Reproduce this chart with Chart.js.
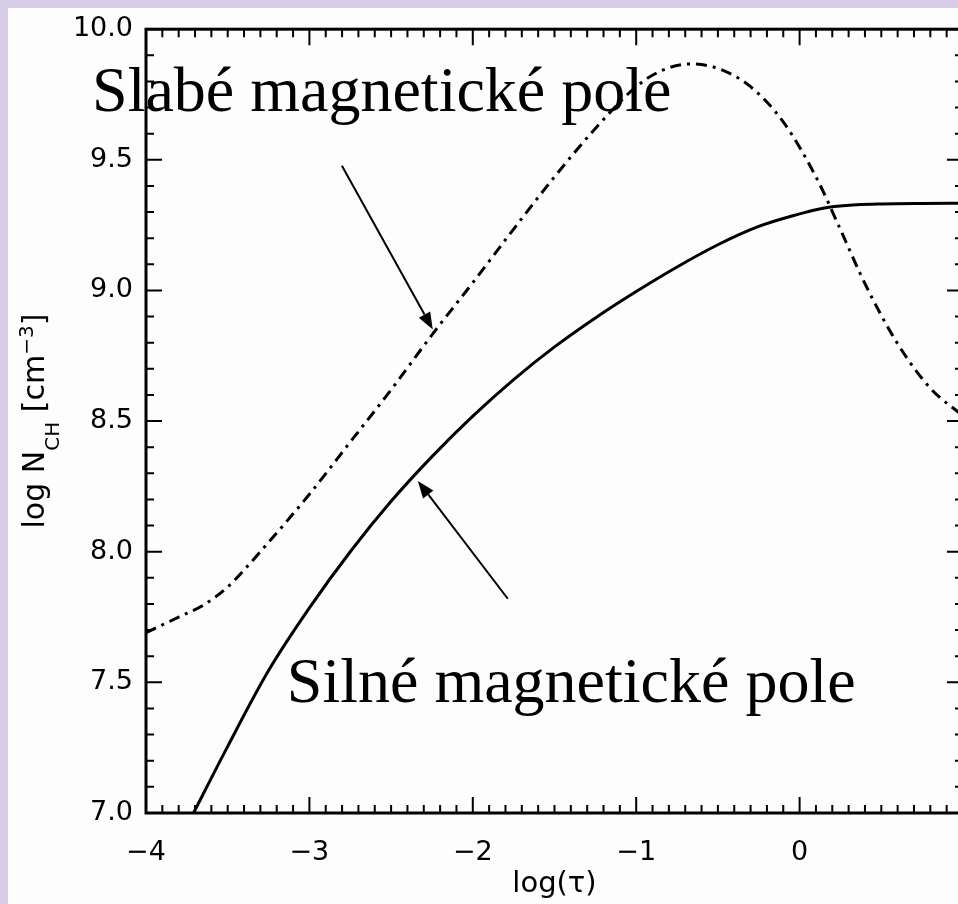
<!DOCTYPE html>
<html>
<head>
<meta charset="utf-8">
<script src="https://cdn.jsdelivr.net/npm/chart.js@4.4.1/dist/chart.umd.min.js"></script>
<style>
  html, body { margin: 0; padding: 0; overflow: hidden; }
  body { width: 958px; height: 904px; background: rgb(216, 205, 230); position: relative; }
  #sheet { position: absolute; left: 8px; top: 8px; right: 0; bottom: 0; background: #fdfdfd; }
  #chart { position: absolute; left: 0; top: 0; }
</style>
</head>
<body>
<div id="sheet"></div>
<canvas id="chart" width="963" height="904"></canvas>
<script>
// weak field model (dash-dot curve)
const weakTau = [-4.0, -3.8, -3.65, -3.5, -3.4, -3.3, -3.0, -2.75, -2.5, -2.25, -2.0, -1.75, -1.5, -1.25, -1.0, -0.85, -0.67, -0.5, -0.3, -0.1, 0.1, 0.25, 0.4, 0.6, 0.8, 1.0];
const weakN = [7.69, 7.75, 7.795, 7.865, 7.93, 8.00, 8.22, 8.42, 8.62, 8.83, 9.03, 9.235, 9.435, 9.62, 9.78, 9.84, 9.867, 9.85, 9.78, 9.645, 9.435, 9.233, 9.026, 8.796, 8.626, 8.52];

// strong field model (solid curve)
const strongTau = [-3.85, -3.75, -3.5, -3.25, -3.0, -2.75, -2.5, -2.25, -2.0, -1.75, -1.5, -1.25, -1.0, -0.75, -0.5, -0.25, 0.0, 0.1, 0.2, 0.35, 0.5, 0.75, 1.0];
const strongN = [6.83, 6.95, 7.255, 7.545, 7.785, 8.0, 8.193, 8.364, 8.519, 8.659, 8.784, 8.895, 8.996, 9.09, 9.175, 9.245, 9.293, 9.309, 9.32, 9.328, 9.331, 9.333, 9.334];

// axes
const xTickValues = [-4, -3, -2, -1, 0];
const xTickLabels = ['−4', '−3', '−2', '−1', '0'];
const yTickValues = [7.0, 7.5, 8.0, 8.5, 9.0, 9.5, 10.0];
const yTickLabels = ['7.0', '7.5', '8.0', '8.5', '9.0', '9.5', '10.0'];

const labelWeak = 'Slabé magnetické pole';
const labelStrong = 'Silné magnetické pole';

const SANS = '"DejaVu Sans", sans-serif';
const SERIF = '"Liberation Serif", "Times New Roman", serif';

// annotation placement in data units
const notes = [
    { text: labelWeak, x: -4.33, y: 9.685 },
    { text: labelStrong, x: -3.138, y: 7.425 }
];
const arrows = [
    { from: [-2.801, 9.477], to: [-2.245, 8.851] },
    { from: [-1.786, 7.820], to: [-2.336, 8.271] }
];

function toPoints(xs, ys) {
    return xs.map((x, i) => ({ x: x, y: ys[i] }));
}

/**
 * Box frame with inward major/minor ticks on all four sides
 */
const frameTicks = {
    id: 'frameTicks',
    afterDatasetsDraw(chart) {
        const { ctx, chartArea: a, scales: { x, y } } = chart;
        ctx.save();
        ctx.strokeStyle = '#000';
        ctx.lineWidth = 2;
        ctx.beginPath();
        for (let i = 0; i <= 50; i++) {
            const px = x.getPixelForValue(-4 + i * 0.1);
            const len = i % 10 === 0 ? 16 : 8;
            ctx.moveTo(px, a.bottom); ctx.lineTo(px, a.bottom - len);
            ctx.moveTo(px, a.top); ctx.lineTo(px, a.top + len);
        }
        for (let i = 0; i <= 30; i++) {
            const py = y.getPixelForValue(7 + i * 0.1);
            const len = i % 5 === 0 ? 16 : 8;
            ctx.moveTo(a.left, py); ctx.lineTo(a.left + len, py);
            ctx.moveTo(a.right, py); ctx.lineTo(a.right - len, py);
        }
        ctx.stroke();
        ctx.lineWidth = 3;
        ctx.strokeRect(a.left, a.top, a.right - a.left, a.bottom - a.top);
        ctx.restore();
    }
};

/**
 * Y axis title with subscript and superscript
 */
const yTitle = {
    id: 'yTitle',
    afterDraw(chart) {
        const { ctx, chartArea: a } = chart;
        const parts = [
            { t: 'log N', size: 30, dy: 0 },
            { t: 'CH', size: 20, dy: 15 },
            { t: ' [cm', size: 30, dy: 0 },
            { t: '−3', size: 20, dy: -11 },
            { t: ']', size: 30, dy: 0 }
        ];
        ctx.save();
        let total = 0;
        parts.forEach(p => {
            ctx.font = p.size + 'px ' + SANS;
            p.w = ctx.measureText(p.t).width;
            total += p.w;
        });
        ctx.translate(44, (a.top + a.bottom) / 2);
        ctx.rotate(-Math.PI / 2);
        ctx.fillStyle = '#000';
        ctx.textBaseline = 'alphabetic';
        let cx = -total / 2;
        parts.forEach(p => {
            ctx.font = p.size + 'px ' + SANS;
            ctx.fillText(p.t, cx, p.dy);
            cx += p.w;
        });
        ctx.restore();
    }
};

/**
 * Text labels and arrows
 */
const annotations = {
    id: 'annotations',
    afterDraw(chart) {
        const { ctx, scales: { x, y } } = chart;
        ctx.save();
        ctx.fillStyle = '#000';
        ctx.strokeStyle = '#000';
        ctx.font = '64px ' + SERIF;
        ctx.textBaseline = 'alphabetic';
        notes.forEach(n => {
            ctx.fillText(n.text, x.getPixelForValue(n.x), y.getPixelForValue(n.y));
        });
        ctx.lineWidth = 2;
        arrows.forEach(ar => {
            const x0 = x.getPixelForValue(ar.from[0]), y0 = y.getPixelForValue(ar.from[1]);
            const x1 = x.getPixelForValue(ar.to[0]), y1 = y.getPixelForValue(ar.to[1]);
            const ang = Math.atan2(y1 - y0, x1 - x0);
            const hl = 17, hw = 6.5;
            const bx = x1 - hl * Math.cos(ang), by = y1 - hl * Math.sin(ang);
            ctx.beginPath();
            ctx.moveTo(x0, y0);
            ctx.lineTo(bx, by);
            ctx.stroke();
            ctx.beginPath();
            ctx.moveTo(x1, y1);
            ctx.lineTo(bx + hw * Math.sin(ang), by - hw * Math.cos(ang));
            ctx.lineTo(bx - hw * Math.sin(ang), by + hw * Math.cos(ang));
            ctx.closePath();
            ctx.fill();
        });
        ctx.restore();
    }
};

new Chart(document.getElementById('chart'), {
    type: 'line',
    data: {
        datasets: [{
            label: labelWeak,
            data: toPoints(weakTau, weakN),
            borderColor: '#000',
            borderWidth: 3,
            borderDash: [11, 6, 3, 6],
            pointRadius: 0,
            cubicInterpolationMode: 'monotone',
            fill: false
        }, {
            label: labelStrong,
            data: toPoints(strongTau, strongN),
            borderColor: '#000',
            borderWidth: 3,
            pointRadius: 0,
            cubicInterpolationMode: 'monotone',
            fill: false
        }]
    },
    options: {
        responsive: false,
        animation: false,
        devicePixelRatio: 1,
        layout: { padding: { top: 22, right: 0, left: 0, bottom: 0 } },
        plugins: {
            legend: { display: false },
            tooltip: { enabled: false }
        },
        scales: {
            x: {
                type: 'linear',
                min: -4,
                max: 1,
                afterFit(scale) { scale.height = 91; },
                afterBuildTicks(scale) {
                    scale.ticks = xTickValues.map(v => ({ value: v }));
                },
                grid: { display: false, drawTicks: false },
                border: { display: false },
                ticks: {
                    color: '#000',
                    padding: 24,
                    maxRotation: 0,
                    font: { family: SANS, size: 27 },
                    callback: (v) => xTickLabels[xTickValues.indexOf(v)]
                },
                title: {
                    display: true,
                    text: 'log(τ)',
                    color: '#000',
                    font: { family: SANS, size: 29 },
                    padding: { top: 0, bottom: 2 }
                }
            },
            y: {
                type: 'linear',
                min: 7,
                max: 10,
                afterFit(scale) { scale.width = 146; },
                afterBuildTicks(scale) {
                    scale.ticks = yTickValues.map(v => ({ value: v }));
                },
                grid: { display: false, drawTicks: false },
                border: { display: false },
                ticks: {
                    color: '#000',
                    padding: 13,
                    font: { family: SANS, size: 27 },
                    callback: (v) => yTickLabels[yTickValues.indexOf(v)]
                }
            }
        }
    },
    plugins: [frameTicks, yTitle, annotations]
});
</script>
</body>
</html>
